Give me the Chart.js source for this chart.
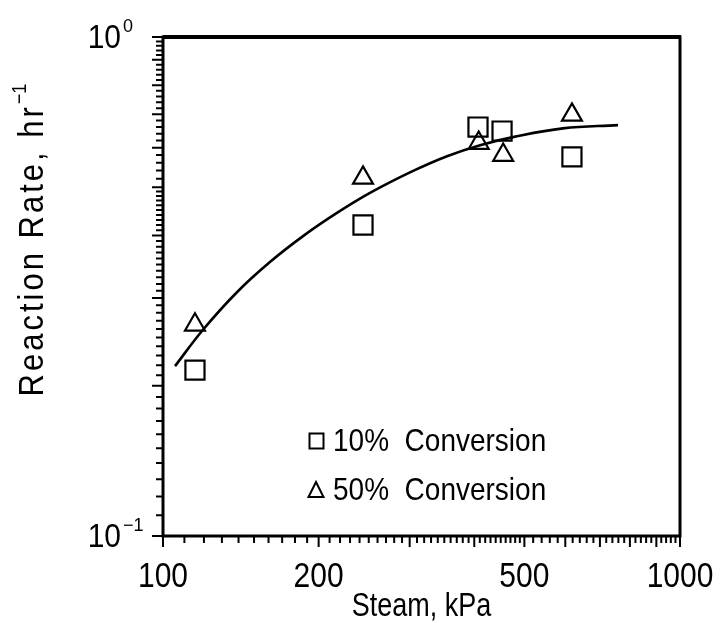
<!DOCTYPE html>
<html>
<head>
<meta charset="utf-8">
<script src="https://cdn.jsdelivr.net/npm/chart.js@4"></script>
<style>
  body { margin: 0; background: #fff; }
  #wrap { width: 726px; height: 623px; }
</style>
</head>
<body>
<div id="wrap"><canvas id="myChart" width="726" height="623"></canvas></div>
<script>
// values
const xTickLabels = [100, 200, 500, 1000];
const yTickLabels = [[0.1, '10', '\u22121'], [1, '10', '0']];

const steam10 = [115.3, 243.7, 406.7, 452.7, 618];
const rate10 = [0.215, 0.420, 0.660, 0.648, 0.575];

const steam50 = [115.3, 243.7, 408, 455, 618];
const rate50 = [0.265, 0.522, 0.613, 0.580, 0.698];

const fitSteam = [105.5, 119.5, 139, 161, 186.6, 217, 251.4, 304.6, 354.3, 410.5, 475.3, 593.8, 758.7];
const fitRate = [0.219, 0.259, 0.308, 0.354, 0.399, 0.444, 0.487, 0.539, 0.577, 0.607, 0.630, 0.656, 0.666];

const legendLabels = ['10%  Conversion', '50%  Conversion'];

const FONT = '"Liberation Sans", Arial, Helvetica, sans-serif';

// minor tick positions
const xMinor = [];
for (let v = 100; v <= 500; v += 10) xMinor.push(v);
for (let v = 520; v <= 1000; v += 20) xMinor.push(v);
const yMinor = [];
for (let v = 10; v <= 50; v += 1) yMinor.push(v / 100);
for (let v = 52; v <= 100; v += 2) yMinor.push(v / 100);

function pts(xs, ys) {
  return xs.map((v, i) => ({x: v, y: ys[i]}));
}

// text slightly stretched vertically, like the scanned lettering
function tallText(ctx, text, x, y, sy) {
  ctx.save();
  ctx.translate(x, y);
  ctx.scale(1, sy);
  ctx.fillText(text, 0, 0);
  ctx.restore();
}

const decor = {
  id: 'decor',
  afterDraw(chart) {
    const {ctx, chartArea: a, scales: {x, y}} = chart;
    ctx.save();
    ctx.strokeStyle = '#000';
    ctx.fillStyle = '#000';

    // frame
    ctx.lineWidth = 3;
    ctx.strokeRect(a.left, a.top, a.right - a.left, a.bottom - a.top);
    ctx.lineWidth = 4;
    ctx.beginPath();
    ctx.moveTo(a.left, a.top);
    ctx.lineTo(a.right + 1, a.top);
    ctx.stroke();

    // x ticks (outside, below)
    ctx.lineWidth = 2;
    ctx.beginPath();
    xMinor.forEach(v => {
      const px = x.getPixelForValue(v);
      const len = (v % 100 === 0) ? 11 : 7;
      ctx.moveTo(px, a.bottom);
      ctx.lineTo(px, a.bottom + len);
    });
    // y ticks (outside, left)
    yMinor.forEach(v => {
      const py = y.getPixelForValue(v);
      const big = Math.abs(v * 10 - Math.round(v * 10)) < 1e-6;
      const len = big ? 11 : 7;
      ctx.moveTo(a.left, py);
      ctx.lineTo(a.left - len, py);
    });
    ctx.stroke();

    // x tick labels
    ctx.font = '30px ' + FONT;
    ctx.textAlign = 'center';
    ctx.textBaseline = 'alphabetic';
    xTickLabels.forEach(v => {
      tallText(ctx, String(v), x.getPixelForValue(v), a.bottom + 51, 1.15);
    });

    // y tick labels with superscript
    yTickLabels.forEach(([v, base, sup]) => {
      const py = y.getPixelForValue(v);
      ctx.font = '30px ' + FONT;
      ctx.textAlign = 'right';
      tallText(ctx, base, 121, py + 11, 1.1);
      ctx.font = '18px ' + FONT;
      ctx.textAlign = 'left';
      ctx.fillText(sup, 123, py - 5);
    });

    // x title
    ctx.font = '27px ' + FONT;
    ctx.textAlign = 'center';
    tallText(ctx, 'Steam, kPa', (a.left + a.right) / 2, 616, 1.2);

    // y title (rotated)
    ctx.save();
    ctx.translate(43, 237);
    ctx.rotate(-Math.PI / 2);
    ctx.scale(1, 1.15);
    ctx.letterSpacing = '3px';
    ctx.font = '31px ' + FONT;
    const main = 'Reaction Rate, hr';
    const w1 = ctx.measureText(main).width;
    ctx.font = '18px ' + FONT;
    const w2 = ctx.measureText('\u22121').width;
    const start = -(w1 + w2) / 2;
    ctx.textAlign = 'left';
    ctx.font = '31px ' + FONT;
    ctx.fillText(main, start, 0);
    ctx.font = '18px ' + FONT;
    ctx.letterSpacing = '0px';
    ctx.fillText('\u22121', start + w1, -15);
    ctx.restore();

    // legend inside plot
    ctx.lineWidth = 2;
    ctx.font = '28px ' + FONT;
    ctx.textAlign = 'left';
    const lx = a.left + 153;
    const rows = [a.top + 404, a.top + 453];
    // square
    ctx.strokeRect(lx - 6.5, rows[0] - 7.5, 14, 15);
    // triangle
    ctx.beginPath();
    ctx.moveTo(lx, rows[1] - 8);
    ctx.lineTo(lx + 7.5, rows[1] + 7);
    ctx.lineTo(lx - 7.5, rows[1] + 7);
    ctx.closePath();
    ctx.stroke();
    legendLabels.forEach((t, i) => {
      tallText(ctx, t, lx + 17, rows[i] + 10, 1.15);
    });

    ctx.restore();
  }
};

const ctx = document.getElementById('myChart');

new Chart(ctx, {
  type: 'scatter',
  data: {
    datasets: [
      {
        label: legendLabels[0],
        data: pts(steam10, rate10),
        pointStyle: 'rect',
        pointRadius: 13.5,
        pointBorderWidth: 2.2,
        pointBorderColor: '#000',
        pointBackgroundColor: 'rgba(0,0,0,0)',
        showLine: false
      },
      {
        label: legendLabels[1],
        data: pts(steam50, rate50),
        pointStyle: 'triangle',
        pointRadius: 11.5,
        pointBorderWidth: 2.2,
        pointBorderColor: '#000',
        pointBackgroundColor: 'rgba(0,0,0,0)',
        showLine: false
      },
      {
        label: 'fit',
        data: pts(fitSteam, fitRate),
        showLine: true,
        borderColor: '#000',
        borderWidth: 2.6,
        pointRadius: 0,
        tension: 0.4
      }
    ]
  },
  options: {
    responsive: false,
    animation: false,
    devicePixelRatio: 1,
    layout: { padding: { left: 163, top: 37, right: 46, bottom: 87 } },
    plugins: {
      legend: { display: false },
      tooltip: { enabled: false }
    },
    scales: {
      x: { type: 'logarithmic', min: 100, max: 1000, display: false },
      y: { type: 'logarithmic', min: 0.1, max: 1, display: false }
    }
  },
  plugins: [decor]
});
</script>
</body>
</html>
